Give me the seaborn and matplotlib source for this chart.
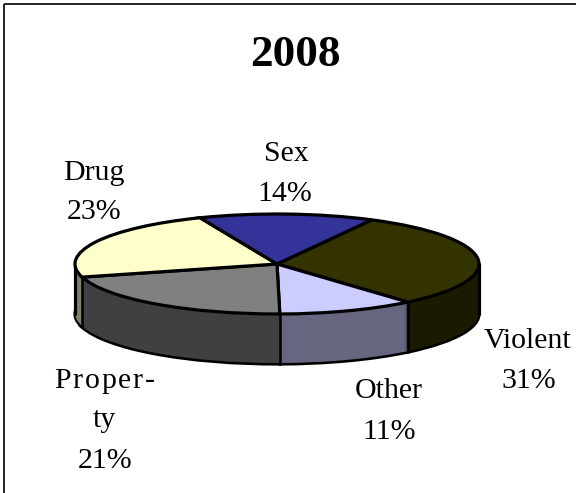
import numpy as np
import matplotlib
matplotlib.use("Agg")
import matplotlib.pyplot as plt
from matplotlib.patches import Rectangle
import seaborn as sns

# slice values, clockwise from the top
categories = ["Violent", "Other", "Property", "Drug", "Sex"]
shares = [31, 11, 21, 23, 14]
top_colors = ["#333300", "#ccccff", "#808080", "#ffffcc", "#333399"]
wall_colors = ["#1a1a00", "#666680", "#404040", "#808066", "#1a1a4d"]

sns.set_theme(style="white")
plt.rcParams["font.family"] = ["Liberation Serif", "DejaVu Serif"]

W, H = 576, 493
fig = plt.figure(figsize=(W / 100, H / 100), dpi=100, facecolor="white")

cx, cy, rx, ry = 277, 264, 202, 50
depth = 50
start = 62
lw = 2.3


def pie_axes(offset):
    a = fig.add_axes([(cx - rx) / W, 1 - (cy + offset + ry) / H, 2 * rx / W, 2 * ry / H])
    a.axis("off")
    a.patch.set_alpha(0)
    return a


def draw_pie(offset, colors, edge):
    a = pie_axes(offset)
    a.pie(shares, colors=colors, startangle=start, counterclock=False, radius=1,
          wedgeprops={"edgecolor": edge, "linewidth": lw})
    a.set_xlim(-1, 1)
    a.set_ylim(-1, 1)
    a.set_aspect("auto")


# side wall: black outline at the bottom, then filled layers upward
draw_pie(depth, wall_colors, "black")
for off in range(depth - 1, 0, -1):
    draw_pie(off, wall_colors, "none")

# vertical wall edges on the front half
walls = fig.add_axes([0, 0, 1, 1])
walls.set_xlim(0, W)
walls.set_ylim(H, 0)
walls.axis("off")
walls.patch.set_alpha(0)
boundaries = start - np.cumsum(shares) / np.sum(shares) * 360
for ang in np.radians(boundaries):
    if np.sin(ang) < 0:
        x = cx + rx * np.cos(ang)
        y = cy - ry * np.sin(ang)
        walls.plot([x, x], [y, y + depth], color="black", lw=lw * 0.8)
walls.plot([cx - rx, cx - rx], [cy, cy + depth], color="black", lw=lw)
walls.plot([cx + rx, cx + rx], [cy, cy + depth], color="black", lw=lw)

draw_pie(0, top_colors, "black")

txt = fig.add_axes([0, 0, 1, 1])
txt.set_xlim(0, W)
txt.set_ylim(H, 0)
txt.axis("off")
txt.patch.set_alpha(0)
# only the top and left of the frame fall inside the picture
txt.add_patch(Rectangle((4, 3.5), W + 10, H + 10, fill=False, ec="#222222", lw=1.4))

renderer = fig.canvas.get_renderer()


def spaced_text(x, y, s, gap=0.0, **kw):
    # matplotlib has no letter spacing, so lay the characters out one by one
    if gap == 0:
        txt.text(x, y, s, ha="center", va="baseline", color="black", **kw)
        return
    widths = []
    for i in range(1, len(s) + 1):
        t = txt.text(0, 0, s[:i], **kw)
        widths.append(t.get_window_extent(renderer).width)
        t.remove()
    left = x - (widths[-1] + gap * (len(s) - 1)) / 2
    for i, ch in enumerate(s):
        off = widths[i - 1] + gap * i if i else 0
        txt.text(left + off, y, ch, ha="left", va="baseline", color="black", **kw)


spaced_text(295, 66, "2008", fontsize=32.5, fontweight="bold")
label_lines = [
    (286, 161, "Sex", 0), (285, 201, "14%", 0),
    (94, 180, "Drug", 0), (94, 219, "23%", 0),
    (528, 348, "Violent", 0), (529, 388, "31%", 0),
    (389, 398, "Other", 0), (389, 439, "11%", 0),
    (104, 388, "Proper-", 1.8), (104, 427, "ty", 0), (105, 468, "21%", 0),
]
for x, y, s, gap in label_lines:
    spaced_text(x, y, s, gap=gap, fontsize=21.5)

fig.savefig("out.png", dpi=100)
